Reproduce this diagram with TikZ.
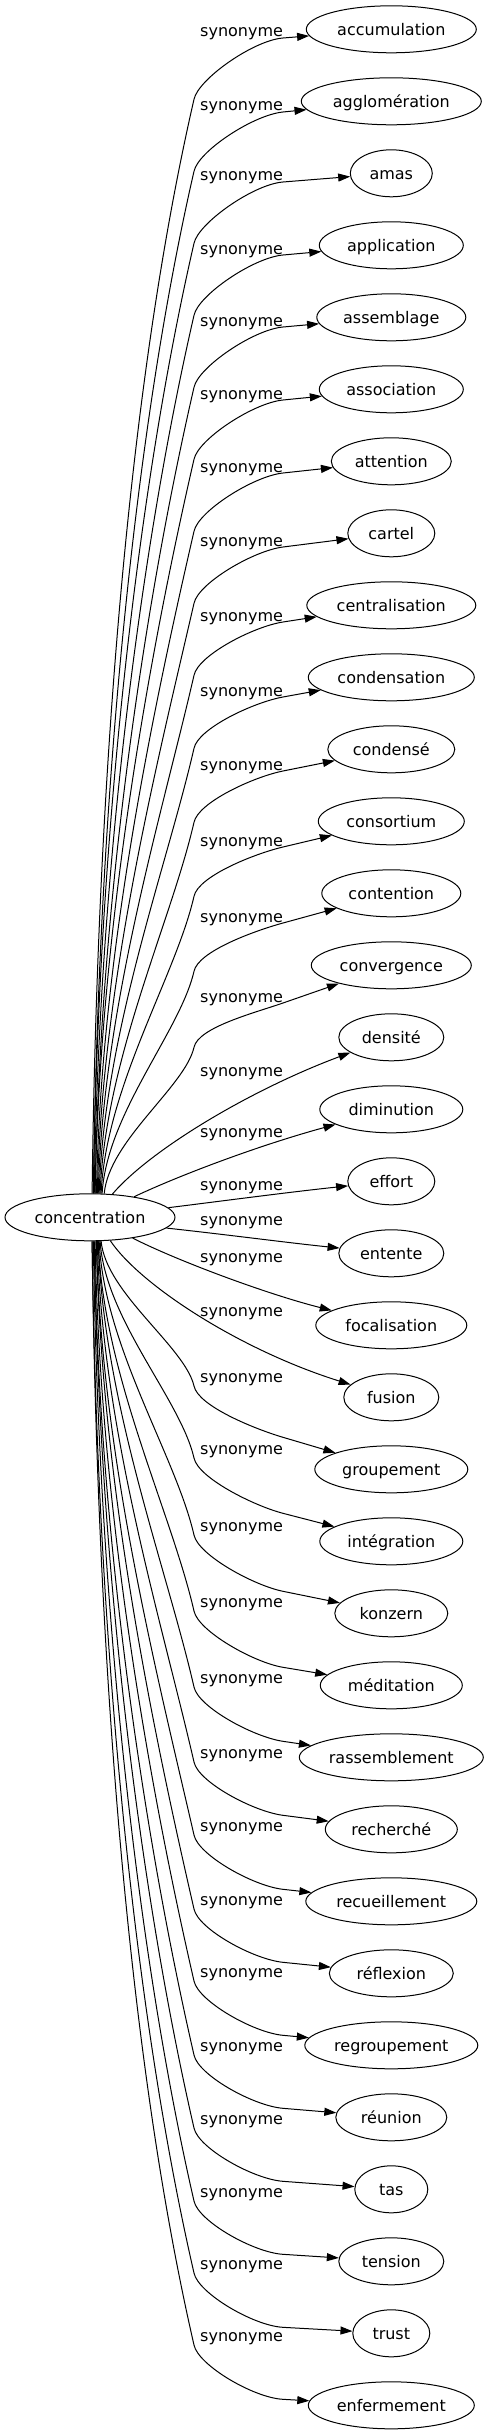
\documentclass[tikz,border=0pt]{standalone}
\usepackage{fontspec}
\setmainfont{DejaVu Sans}
\usetikzlibrary{shapes.geometric,arrows.meta}
\newcommand\synfont{\fontsize{16}{19}\selectfont}
\tikzset{
  tgt/.style={draw, ellipse, line width=1pt, minimum height=47pt, inner sep=0pt,
    text height=16pt, text depth=3.4pt, font=\synfont},
  lbl/.style={anchor=base west, inner sep=0pt, font=\synfont},
  edge/.style={line width=1pt, -{Triangle[length=12pt,width=8pt]}},
}
% #1 name, #2 text, #3 index, #4 width, #5 label y, #6 start dx, #7 bend offset
\newcommand\topsyn[7]{%
  \pgfmathsetmacro\Eyt{29.3+72*#3}%
  \node[tgt, minimum width=#4pt] (#1) at (391.3,\Eyt) {#2};%
  \node[lbl] (l#1) at (200,#5+4) {synonyme};%
  \pgfmathtruncatemacro\Eang{atan2(24*sqrt(1-(#6/85)^2),#6)}%
  \pgfmathsetmacro\Eby{\Eyt+#7}%
  \pgfmathsetmacro\EdY{1193-\Eby}%
  \pgfmathsetmacro\Eax{95+#6}%
  \pgfmathsetmacro\Eay{1193-0.36*\EdY}%
  \pgfmathsetmacro\Eh{0.27*\EdY}%
  \pgfmathsetmacro\Ebx{194-0.23*\Eh}%
  \pgfmathsetmacro\Ecy{\Eby+\Eh}%
  \pgfmathsetmacro\Emy{#5+5}%
  \pgfmathsetmacro\Elen{sqrt(108.3^2+(\Eyt-\Emy)^2)}%
  \pgfmathsetmacro\Edx{283-30*108.3/\Elen}%
  \pgfmathsetmacro\Edy{\Emy-30*(\Eyt-\Emy)/\Elen}%
  \draw[edge] (c.\Eang) .. controls (\Eax,\Eay) and (\Ebx,\Ecy) .. (194,\Eby)
     .. controls (198.2,\Eby-20) and (\Edx,\Edy) .. (283,\Emy) -- (#1);%
}
% #7 here: offset of the passing point above the target
\newcommand\botsyn[7]{%
  \pgfmathsetmacro\Eyt{29.3+72*#3}%
  \node[tgt, minimum width=#4pt] (#1) at (391.3,\Eyt) {#2};%
  \node[lbl] (l#1) at (200,#5+4) {synonyme};%
  \pgfmathtruncatemacro\Eang{-atan2(24*sqrt(1-(#6/85)^2),#6)}%
  \pgfmathsetmacro\Eby{#5+8}%
  \pgfmathsetmacro\EdY{\Eby-1241}%
  \pgfmathsetmacro\Eax{95+#6}%
  \pgfmathsetmacro\Eay{1241+0.36*\EdY}%
  \pgfmathsetmacro\Eh{0.27*\EdY}%
  \pgfmathsetmacro\Ebx{194-0.23*\Eh}%
  \pgfmathsetmacro\Ecy{\Eby-\Eh}%
  \pgfmathsetmacro\Emy{\Eyt-#7}%
  \pgfmathsetmacro\Elen{sqrt(108.3^2+(\Eyt-\Emy)^2)}%
  \pgfmathsetmacro\Edx{283-30*108.3/\Elen}%
  \pgfmathsetmacro\Edy{\Emy-30*(\Eyt-\Emy)/\Elen}%
  \draw[edge] (c.\Eang) .. controls (\Eax,\Eay) and (\Ebx,\Ecy) .. (194,\Eby)
     .. controls (198.2,\Eby+20) and (\Edx,\Edy) .. (283,\Emy) -- (#1);%
}
\begin{document}
\begin{tikzpicture}[x=1pt,y=-1pt]
\useasboundingbox (0,0) rectangle (489,2435);
\node[tgt, minimum width=170pt] (c) at (90,1217.3) {concentration};

\topsyn{accumulation}{accumulation}{0}{170}{33}{2}{70}
\topsyn{agglomeration}{agglomération}{1}{180}{107}{3}{70}
\topsyn{amas}{amas}{2}{82}{177}{3}{70}
\topsyn{application}{application}{3}{144}{250}{4}{70}
\topsyn{assemblage}{assemblage}{4}{149}{322}{5}{70}
\topsyn{association}{association}{5}{144}{395}{5}{70}
\topsyn{attention}{attention}{6}{120}{468}{6}{70}
\topsyn{cartel}{cartel}{7}{87}{542}{7}{70}
\topsyn{centralisation}{centralisation}{8}{169}{617}{8}{70}
\topsyn{condensation}{condensation}{9}{166}{692}{9}{71}
\topsyn{condense}{condensé}{10}{127}{766}{10}{73}
\topsyn{consortium}{consortium}{11}{146}{842}{11}{75}
\topsyn{contention}{contention}{12}{139}{918}{12}{78}
\topsyn{convergence}{convergence}{13}{160}{998}{14}{82}

% middle nodes
\node[tgt, minimum width=105pt] (densite) at (391.3,1037.3) {densité};
\node[lbl] (ldensite) at (200,1076) {synonyme};
\draw[edge] (c.46) .. controls (150,1150) and (250,1090) .. (densite);

\node[tgt, minimum width=143pt] (diminution) at (391.3,1109.3) {diminution};
\node[lbl] (ldiminution) at (200,1137) {synonyme};
\draw[edge] (c.25) .. controls (180,1175) and (260,1145) .. (diminution);

\node[tgt, minimum width=87pt] (effort) at (391.3,1181.3) {effort};
\node[lbl] (leffort) at (200,1190) {synonyme};
\draw[edge] (c.7) .. controls (230,1200) and (290,1192) .. (effort);

\node[tgt, minimum width=105pt] (entente) at (391.3,1253.3) {entente};
\node[lbl] (lentente) at (200,1225) {synonyme};
\draw[edge] (c.-8) .. controls (230,1235) and (290,1243) .. (entente);

\node[tgt, minimum width=151pt] (focalisation) at (391.3,1325.3) {focalisation};
\node[lbl] (lfocalisation) at (200,1262) {synonyme};
\draw[edge] (c.-26) .. controls (180,1262) and (270,1295) .. (focalisation);

\node[tgt, minimum width=95pt] (fusion) at (391.3,1397.3) {fusion};
\node[lbl] (lfusion) at (200,1316) {synonyme};
\draw[edge] (c.-49) .. controls (140,1285) and (240,1350) .. (fusion);

\botsyn{groupement}{groupement}{20}{153}{1378}{11}{32}
\botsyn{integration}{intégration}{21}{143}{1450}{10}{28}
\botsyn{konzern}{konzern}{22}{113}{1527}{9}{22}
\botsyn{meditation}{méditation}{23}{142}{1603}{8}{18}
\botsyn{rassemblement}{rassemblement}{24}{184}{1679}{8}{16}
\botsyn{recherche}{recherché}{25}{132}{1754}{7}{14}
\botsyn{recueillement}{recueillement}{26}{171}{1827}{6}{12}
\botsyn{reflexion}{réflexion}{27}{124}{1901}{6}{11}
\botsyn{regroupement}{regroupement}{28}{173}{1973}{5}{10}
\botsyn{reunion}{réunion}{29}{111}{2047}{4}{9}
\botsyn{tas}{tas}{30}{73}{2120}{4}{8}
\botsyn{tension}{tension}{31}{105}{2193}{3}{7}
\botsyn{trust}{trust}{32}{77}{2265}{2}{6}
\botsyn{enfermement}{enfermement}{33}{166}{2337}{2}{6}
\end{tikzpicture}
\end{document}
